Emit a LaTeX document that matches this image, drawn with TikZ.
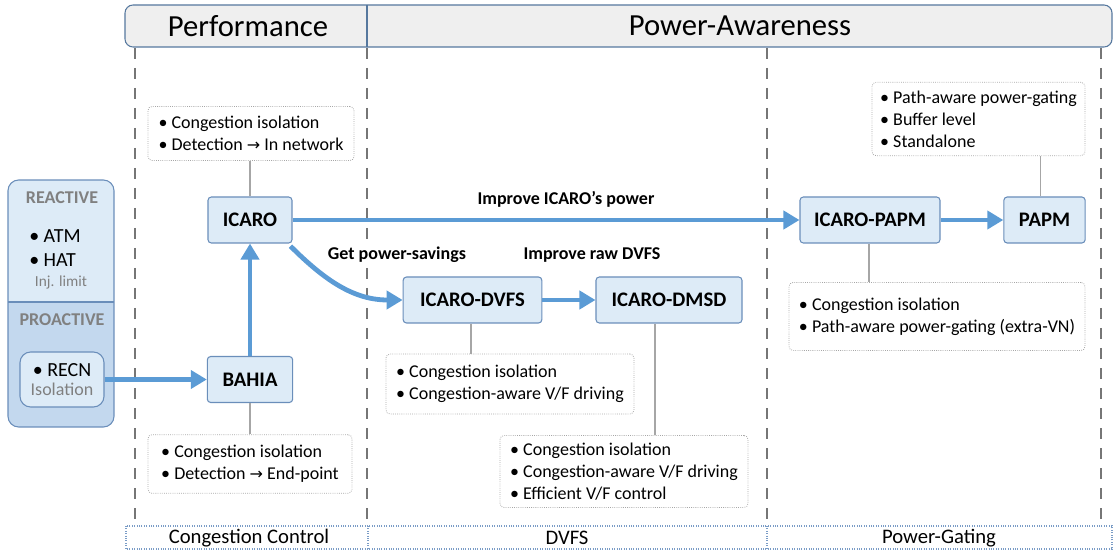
\documentclass[tikz,border=0pt]{standalone}
\usepackage{fontspec}
\setmainfont{Carlito}
\newfontfamily\symfont{DejaVu Sans}
\usetikzlibrary{arrows.meta}

\definecolor{nodefill}{HTML}{DDEBF7}
\definecolor{nodeline}{HTML}{6A8EBA}
\definecolor{flowblue}{HTML}{5B9BD5}
\definecolor{proactfill}{HTML}{C3D8EE}
\definecolor{headfill}{HTML}{EFEFEF}
\definecolor{headline}{HTML}{56789E}
\definecolor{dashgray}{HTML}{767676}
\definecolor{notegray}{HTML}{A6A6A6}
\definecolor{labelgray}{HTML}{808080}
\definecolor{barline}{HTML}{7A9CC6}

\newcommand{\rarr}{{\symfont\fontsize{12}{14}\selectfont →}}

\tikzset{
  tech/.style={draw=nodeline, fill=nodefill, line width=0.8pt, rounded corners=2.5pt,
    minimum height=34.5pt, inner sep=0pt, font=\bfseries\fontsize{15.5}{18}\selectfont},
  note/.style={draw=notegray, densely dotted, line width=0.6pt, rounded corners=3pt,
    align=left, inner sep=0pt, font=\fontsize{13.5}{16.5}\selectfont},
  link/.style={draw=notegray, line width=1.4pt},
  flow/.style={draw=flowblue, line width=3.6pt, -{Triangle[length=12pt,width=13.5pt]}},
  flowlabel/.style={font=\bfseries\fontsize{13.5}{16}\selectfont, inner sep=1pt, fill=white},
  divider/.style={draw=dashgray, line width=2pt, dash pattern=on 8.25pt off 6.75pt},
  headtext/.style={font=\fontsize{23}{26}\selectfont, inner sep=0pt},
  bartext/.style={font=\fontsize{15.5}{18}\selectfont, inner sep=0pt},
  panelhead/.style={font=\bfseries\fontsize{13.5}{16}\selectfont, text=labelgray, inner sep=0pt},
  paneltext/.style={font=\fontsize{15}{18}\selectfont, inner sep=0pt},
  panelsub/.style={font=\fontsize{11.5}{14}\selectfont, text=labelgray, inner sep=0pt}
}

\begin{document}
\begin{tikzpicture}[x=0.75pt,y=-0.75pt]
\useasboundingbox (0,0) rectangle (1114,552);

% column separators
\foreach \x in {135,367,767,1101}
  \draw[divider] (\x,48) -- (\x,521);

% top header bar
\draw[headline, fill=headfill, line width=0.8pt, rounded corners=6pt] (125,5) rectangle (1112,47);
\draw[headline, line width=0.8pt] (367,5) -- (367,47);
\node[headtext] (perf) at (248,26) {Performance};
\node[headtext] (power) at (740,26) {Power-Awareness};

% bottom category bar
\draw[barline, densely dotted, line width=0.8pt] (126,526) rectangle (1112,549);
\draw[barline, densely dotted, line width=0.8pt] (368,526) -- (368,549);
\draw[barline, densely dotted, line width=0.8pt] (767,526) -- (767,549);
\node[bartext] (cc) at (249,538) {Congestion Control};
\node[bartext] (dv) at (567,538) {DVFS};
\node[bartext] (pg) at (939,538) {Power-Gating};

% left panel: reactive / proactive
\begin{scope}
  \clip[rounded corners=8pt] (8,180) rectangle (114,427);
  \fill[nodefill] (8,180) rectangle (114,302);
  \fill[proactfill] (8,302) rectangle (114,427);
\end{scope}
\draw[nodeline, line width=0.8pt, rounded corners=8pt] (8,180) rectangle (114,427);
\draw[nodeline, line width=0.8pt] (8,302) -- (114,302);
\node[panelhead] (reactive) at (62,198) {REACTIVE};
\node[paneltext, anchor=west] (atm) at (29,236) {• ATM};
\node[paneltext, anchor=west] (hat) at (29,260) {• HAT};
\node[panelsub] (inj) at (61,282) {Inj. limit};
\node[panelhead] (proactive) at (62,320) {PROACTIVE};
\node[draw=nodeline, fill=nodefill, line width=0.8pt, rounded corners=8pt,
      minimum width=63pt, minimum height=41.25pt, align=center, inner sep=0pt] (recn) at (62,379.5)
  {{\fontsize{15}{15}\selectfont • RECN}\\[2pt]{\fontsize{13.5}{14}\selectfont\color{labelgray}Isolation}};

% technique boxes
\node[tech, minimum width=63pt] (icaro) at (250,220) {ICARO};
\node[tech, minimum width=64pt] (bahia) at (250,379.5) {BAHIA};
\node[tech, minimum width=104pt] (dvfs) at (472.5,300) {ICARO-DVFS};
\node[tech, minimum width=109.5pt] (dmsd) at (669,300) {ICARO-DMSD};
\node[tech, minimum width=105pt] (icpapm) at (870,220) {ICARO-PAPM};
\node[tech, minimum width=61pt] (papm) at (1044.5,220) {PAPM};

% feature notes
\node[note, minimum width=154.5pt, minimum height=40.5pt] (nicaro) at (251,133.5)
  {• Congestion isolation\\• Detection \rarr{} In network};
\node[note, minimum width=153pt, minimum height=44pt] (nbahia) at (250,464)
  {• Congestion isolation\\• Detection \rarr{} End-point};
\node[note, minimum width=186pt, minimum height=45pt] (ndvfs) at (510,384)
  {• Congestion isolation\\• Congestion-aware V/F driving};
\node[note, minimum width=186pt, minimum height=54pt] (ndmsd) at (624,471.5)
  {• Congestion isolation\\• Congestion-aware V/F driving\\• Efficient V/F control};
\node[note, minimum width=159.75pt, minimum height=55pt] (npapm) at (978.5,119)
  {• Path-aware power-gating\\• Buffer level\\• Standalone};
\node[note, minimum width=222pt, minimum height=51pt] (nicpapm) at (937,316.5)
  {• Congestion isolation\\• Path-aware power-gating (extra-VN)};

% note links
\draw[link] (icaro.north) -- (icaro.north |- nicaro.south);
\draw[link] (bahia.south) -- (bahia.south |- nbahia.north);
\draw[link] ([xshift=-1pt]dvfs.south) -- ([xshift=-1pt]dvfs.south |- ndvfs.north);
\draw[link] ([xshift=-10.5pt]dmsd.south) -- ([xshift=-10.5pt]dmsd.south |- ndmsd.north);
\draw[link] ([xshift=-3pt]papm.north) -- ([xshift=-3pt]papm.north |- npapm.south);
\draw[link] ([xshift=-1pt]icpapm.south) -- ([xshift=-1pt]icpapm.south |- nicpapm.north);

% evolution arrows
\draw[flow] (recn.east) -- (bahia.west);
\draw[flow] (bahia.north) -- (icaro.south);
\draw[flow] (icaro.east) -- (icpapm.west);
\draw[flow] ([shift={(-1.5pt,-2pt)}]icaro.south east) to[out=-45, in=180] (dvfs.west);
\draw[flow] (dvfs.east) -- (dmsd.west);
\draw[flow] (icpapm.east) -- (papm.west);

% arrow labels
\node[flowlabel] (lpower) at (566,199) {Improve ICARO’s power};
\node[flowlabel] (lsave) at (397,255) {Get power-savings};
\node[flowlabel] (lraw) at (592,255) {Improve raw DVFS};
\end{tikzpicture}
\end{document}
